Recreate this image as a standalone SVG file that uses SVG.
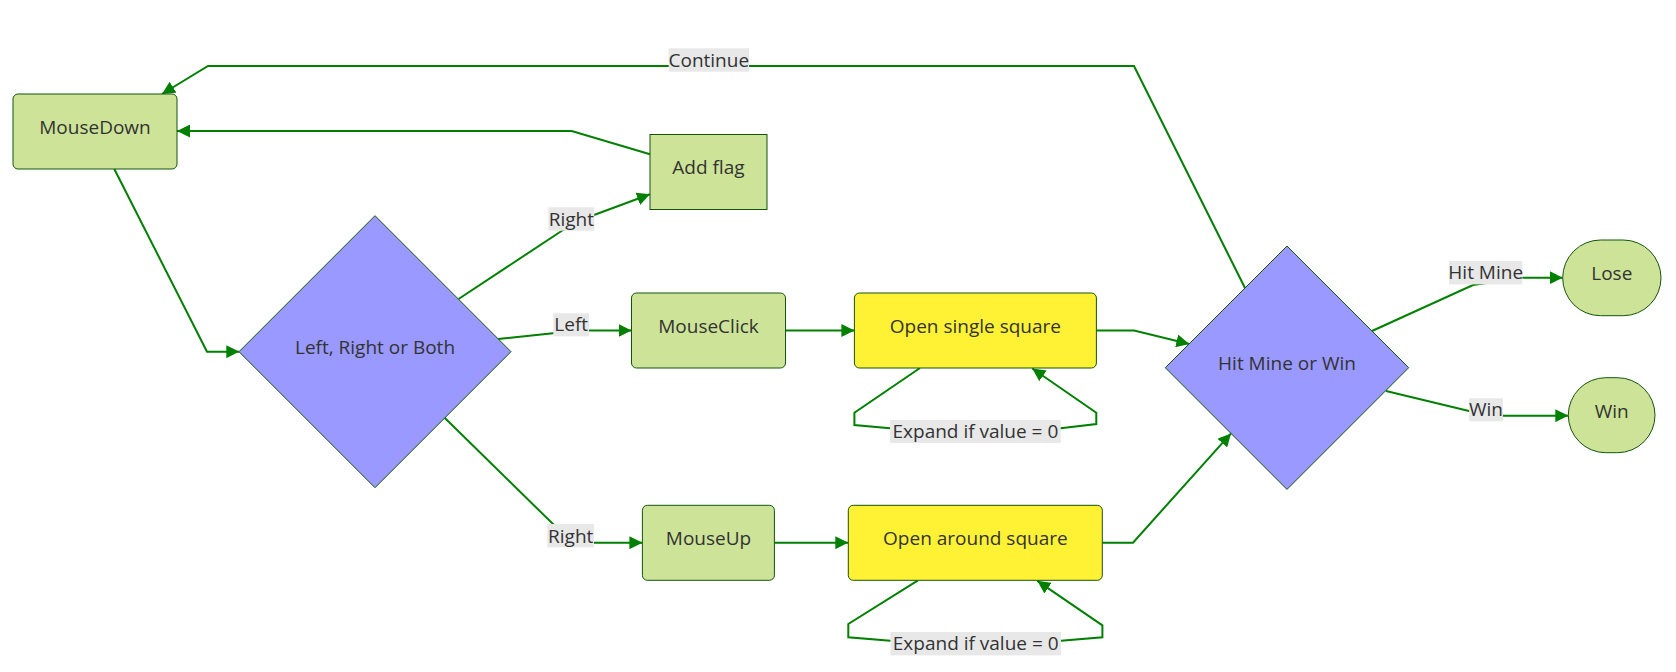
<svg xmlns="http://www.w3.org/2000/svg" width="1676" height="672" viewBox="0 0 1676 672">
<style>
  .txt { font-family: "Open Sans", "Liberation Sans", sans-serif; font-size: 19px; fill: #333333; text-anchor: middle; }
  .green { fill: #cde498; stroke: #13540c; stroke-width: 1; }
  .yellow { fill: #fff234; stroke: #13540c; stroke-width: 1; }
  .diamond { fill: #9999ff; stroke: #13540c; stroke-width: 1; }
  .edge { fill: none; stroke: #008000; stroke-width: 2; }
  .arrow { marker-end: url(#arrowhead); }
  .lblbg { fill: #e8e8e8; }
</style>
<defs>
  <marker id="arrowhead" viewBox="0 0 10 10" refX="10" refY="5" markerUnits="userSpaceOnUse" markerWidth="13" markerHeight="13" orient="auto">
    <path d="M0,0 L10,5 L0,10 z" fill="#008000"/>
  </marker>
</defs>
<rect width="1676" height="672" fill="#ffffff"/>

<g id="connectors">
  <path class="edge arrow" d="M114.3,169 L207,351.7 L239.3,351.7"/>
  <path class="edge arrow" d="M458.6,299 L563,230 L594,215 L650,194.3"/>
  <path class="edge arrow" d="M498.2,338.9 L553,333.3 L589,330.5 L631.5,330.5"/>
  <path class="edge arrow" d="M444.6,417.8 L554,525 L594,542.7 L642.4,542.7"/>
  <path class="edge arrow" d="M650,154.3 L571.7,131 L177,131"/>
  <path class="edge arrow" d="M785.5,330.5 L854.4,330.5"/>
  <path class="edge arrow" d="M920,368 L854.4,412.7 L854.4,425 L890,428.3 L1060.7,428.3 L1096.3,424 L1096.3,412.7 L1032.3,368.5"/>
  <path class="edge arrow" d="M774.5,542.7 L848.3,542.7"/>
  <path class="edge arrow" d="M918,580.3 L848.3,624 L848.3,637.3 L890.4,640.7 L1061,640.7 L1102.4,637.3 L1102.4,625.3 L1037.3,580.8"/>
  <path class="edge arrow" d="M1096.3,330.5 L1134,330.5 L1189.3,344"/>
  <path class="edge arrow" d="M1102.4,542.7 L1133,542.7 L1231,433.4"/>
  <path class="edge arrow" d="M1245,288 L1134,66 L208,66 L162,94"/>
  <path class="edge arrow" d="M1372,331 L1473,285 L1522,277.7 L1562.7,277.7"/>
  <path class="edge arrow" d="M1386,391 L1469,411 L1503,415.7 L1568.3,415.7"/>

  <g id="edge-labels">
    <rect class="lblbg" x="668.7" y="48.3" width="80.3" height="23.4"/>
    <text class="txt" x="708.8" y="66.7">Continue</text>
    <rect class="lblbg" x="548.3" y="207.3" width="46" height="23.4"/>
    <text class="txt" x="571.3" y="226">Right</text>
    <rect class="lblbg" x="553.3" y="313.3" width="35.7" height="23"/>
    <text class="txt" x="571.2" y="331.4">Left</text>
    <rect class="lblbg" x="547.3" y="524" width="46.7" height="23.4"/>
    <text class="txt" x="570.7" y="542.5">Right</text>
    <rect class="lblbg" x="890" y="420" width="170.7" height="23"/>
    <text class="txt" x="975.4" y="438">Expand if value = 0</text>
    <rect class="lblbg" x="890.4" y="632" width="170.6" height="23.4"/>
    <text class="txt" x="975.7" y="650">Expand if value = 0</text>
    <rect class="lblbg" x="1449" y="261" width="73.4" height="23.4"/>
    <text class="txt" x="1485.7" y="279.4">Hit Mine</text>
    <rect class="lblbg" x="1469.1" y="398.3" width="33.8" height="23"/>
    <text class="txt" x="1486" y="416.4">Win</text>
  </g>
</g>

<g id="node-MouseDown">
  <rect class="green" x="13" y="94" width="164" height="75" rx="5"/>
  <text class="txt" x="95" y="133.5">MouseDown</text>
</g>
<g id="node-AddFlag">
  <rect class="green" x="650" y="134.5" width="117" height="75"/>
  <text class="txt" x="708.5" y="174">Add flag</text>
</g>
<g id="node-LeftRightBoth">
  <polygon class="diamond" points="375,215.7 511,351.7 375,487.7 239,351.7"/>
  <text class="txt" x="375" y="353.5">Left, Right or Both</text>
</g>
<g id="node-MouseClick">
  <rect class="green" x="631.5" y="293" width="154" height="75" rx="5"/>
  <text class="txt" x="708.5" y="332.5">MouseClick</text>
</g>
<g id="node-OpenSingle">
  <rect class="yellow" x="854.4" y="293" width="242" height="75" rx="5"/>
  <text class="txt" x="975.4" y="332.5">Open single square</text>
</g>
<g id="node-MouseUp">
  <rect class="green" x="642.4" y="505.3" width="132" height="75" rx="5"/>
  <text class="txt" x="708.5" y="544.8">MouseUp</text>
</g>
<g id="node-OpenAround">
  <rect class="yellow" x="848.3" y="505.3" width="254" height="75" rx="5"/>
  <text class="txt" x="975.4" y="544.8">Open around square</text>
</g>
<g id="node-HitMineOrWin">
  <polygon class="diamond" points="1287,246 1408.7,367.7 1287,489.4 1165.3,367.7"/>
  <text class="txt" x="1287" y="369.7">Hit Mine or Win</text>
</g>
<g id="node-Lose">
  <rect class="green" x="1562.7" y="240" width="98.3" height="75.7" rx="37.8"/>
  <text class="txt" x="1611.8" y="280">Lose</text>
</g>
<g id="node-Win">
  <rect class="green" x="1568.3" y="377.7" width="86.7" height="75" rx="37.5"/>
  <text class="txt" x="1611.7" y="417.5">Win</text>
</g>
</svg>
